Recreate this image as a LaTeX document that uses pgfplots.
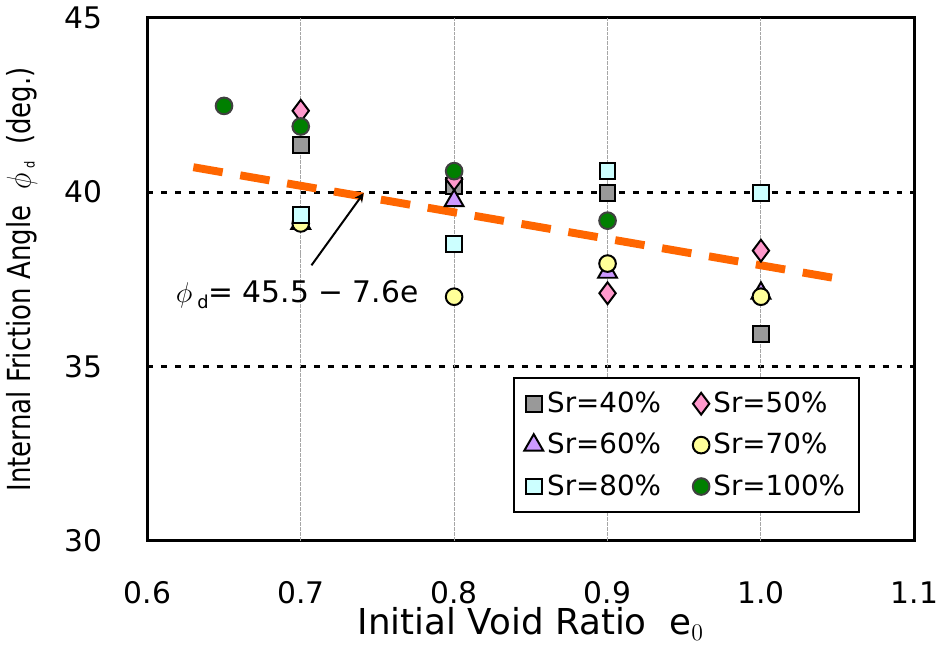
\documentclass[border=0pt]{standalone}
\usepackage{fontspec}
\setmainfont{DejaVu Sans}
\usepackage{graphicx}
\usepackage{pgfplots}
\pgfplotsset{compat=1.18}
\definecolor{c40}{HTML}{999999}
\definecolor{c50}{HTML}{FF99CC}
\definecolor{c60}{HTML}{CC99FF}
\definecolor{c70}{HTML}{FFFF99}
\definecolor{c80}{HTML}{CCFFFF}
\definecolor{c100}{HTML}{007F00}
\definecolor{trend}{HTML}{FF6600}
\begin{document}
\begin{tikzpicture}
\begin{axis}[
  scale only axis,
  width=387pt, height=264pt,
  xmin=0.6, xmax=1.1, ymin=30, ymax=45,
  xtick={0.6,0.7,0.8,0.9,1.0,1.1},
  ytick={30,35,40,45},
  major tick length=0pt,
  /pgf/number format/assume math mode=true,
  xticklabel style={/pgf/number format/fixed,/pgf/number format/precision=1,/pgf/number format/fixed zerofill,font=\fontsize{15}{18}\selectfont, yshift=-17pt, inner xsep=0pt},
  yticklabel style={font=\fontsize{15}{18}\selectfont, xshift=-19pt},
  axis line style={line width=1.5pt},
  extra x ticks={0.7,0.8,0.9,1.0},
  extra x tick labels={},
  extra x tick style={grid=major, major grid style={gray!70, line width=0.5pt, dash pattern=on 2pt off 0.5pt}},
  ymajorgrids,
  major grid style={black, line width=1.5pt, dash pattern=on 3pt off 4pt},
  xlabel={Initial Void Ratio\ \ e$_0$},
  ylabel={\scalebox{0.82}[1]{Internal Friction Angle\ \ $\phi$\,\raisebox{-2pt}{\scriptsize d}\ \ (deg.)}},
  xlabel style={font=\fontsize{18}{20}\selectfont, yshift=5pt},
  ylabel style={font=\fontsize{16}{18}\selectfont, yshift=7pt},
  legend columns=2,
  legend style={at={(0.929,0.053)}, anchor=south east, draw=black, line width=1pt,
    font=\fontsize{14}{17}\selectfont, row sep=5pt, inner sep=5pt,
    /tikz/every even column/.append style={column sep=14pt}},
  legend cell align=left,
  clip=false,
]
\addplot[only marks, mark=square*, mark size=4pt, mark options={fill=c40, draw=black, line width=1pt}]
  coordinates {(0.7,41.36) (0.8,40.17) (0.9,39.97) (1.0,35.94)};
\addlegendentry{Sr=40\%}
\addplot[only marks, mark=diamond*, mark size=5.5pt, mark options={fill=c50, draw=black, line width=1pt}]
  coordinates {(0.7,42.33) (0.8,40.37) (0.9,37.1) (1.0,38.32)};
\addlegendentry{Sr=50\%}
\addplot[only marks, mark=triangle*, mark size=5.5pt, mark options={fill=c60, draw=black, line width=1pt}]
  coordinates {(0.7,39.1) (0.8,39.75) (0.9,37.7) (1.0,37.1)};
\addlegendentry{Sr=60\%}
\addplot[only marks, mark=*, mark size=4.2pt, mark options={fill=c70, draw=black, line width=1pt}]
  coordinates {(0.7,39.1) (0.8,37.0) (0.9,37.95) (1.0,37.0)};
\addlegendentry{Sr=70\%}
\addplot[only marks, mark=square*, mark size=4pt, mark options={fill=c80, draw=black, line width=1pt}]
  coordinates {(0.7,39.35) (0.8,38.5) (0.9,40.6) (1.0,39.97)};
\addlegendentry{Sr=80\%}
\addplot[only marks, mark=*, mark size=4.2pt, mark options={fill=c100, draw=black!75, line width=1pt}]
  coordinates {(0.65,42.47) (0.7,41.88) (0.8,40.6) (0.9,39.18)};
\addlegendentry{Sr=100\%}
\addplot[trend, line width=4pt, dash pattern=on 15pt off 9pt, forget plot]
  coordinates {(0.63,40.712) (1.055,37.482)};
\draw[-stealth, line width=1pt] (axis cs:0.707,37.9) -- (axis cs:0.741,39.97);
\node[anchor=west, font=\fontsize{15}{18}\selectfont] at (axis cs:0.614,37.05) {{\Large$\phi$}\,\raisebox{-3pt}{\small d}= 45.5 − 7.6e};
\end{axis}
\end{tikzpicture}
\end{document}
